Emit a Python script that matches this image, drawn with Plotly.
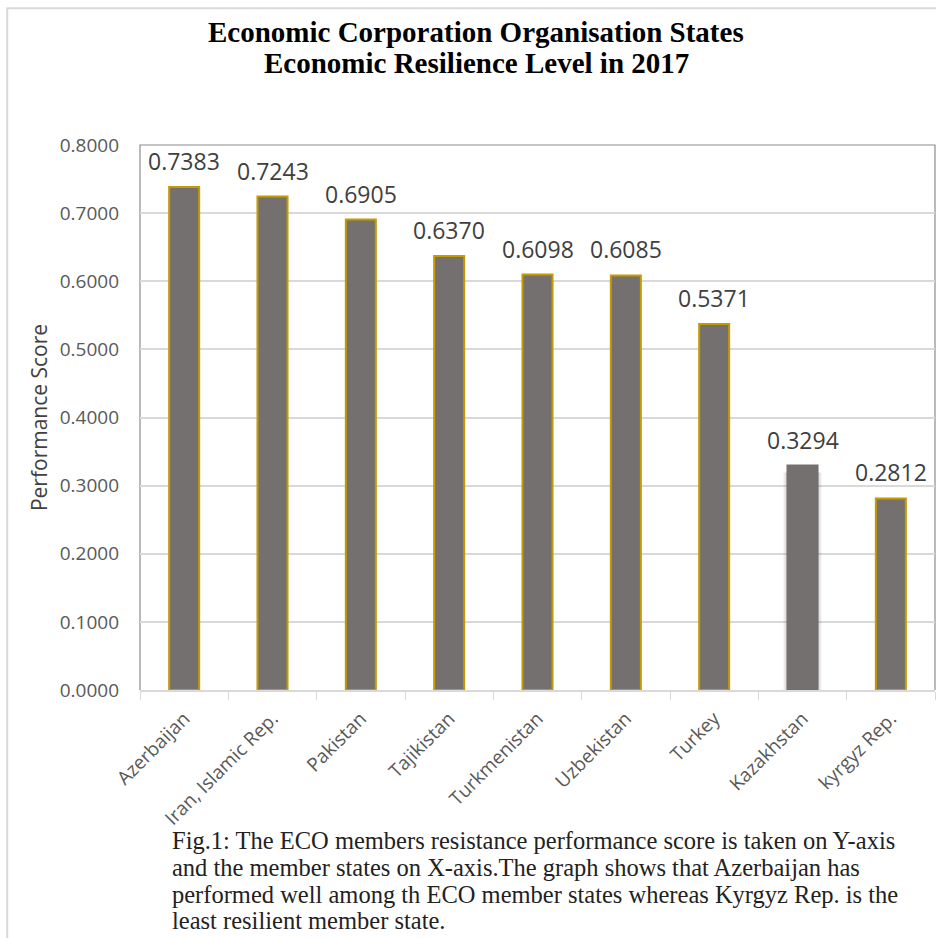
import plotly.graph_objects as go

countries = ["Azerbaijan", "Iran, Islamic Rep.", "Pakistan", "Tajikistan", "Turkmenistan",
             "Uzbekistan", "Turkey", "Kazakhstan", "kyrgyz Rep."]
scores = [0.7383, 0.7243, 0.6905, 0.6370, 0.6098, 0.6085, 0.5371, 0.3294, 0.2812]
outline_colors = ["#C59B00"] * 7 + ["#757070"] + ["#C59B00"]
shadowed = [False] * 7 + [True] + [False]
y_ticks = [0.0, 0.1, 0.2, 0.3, 0.4, 0.5, 0.6, 0.7, 0.8]
title_lines = ["Economic Corporation Organisation States", "Economic Resilience Level in 2017"]
caption_lines = [
    "Fig.1: The ECO members resistance performance score is taken on Y-axis",
    "and the member states on X-axis.The graph shows that Azerbaijan has",
    "performed well among th ECO member states whereas Kyrgyz Rep. is the",
    "least resilient member state.",
]

fig = go.Figure()
# soft shadow behind the Kazakhstan bar
shadow_vals = [v if s else None for v, s in zip(scores, shadowed)]
for w, a in [(0.44, 0.04), (0.41, 0.06), (0.38, 0.08)]:
    fig.add_trace(go.Bar(x=countries, y=[None if v is None else v - 0.004 for v in shadow_vals],
                         base=[None if v is None else -0.006 for v in shadow_vals],
                         width=w, marker=dict(color=f"rgba(0,0,0,{a})", line=dict(width=0)),
                         hoverinfo="skip"))
fig.add_trace(go.Bar(
    x=countries, y=scores, width=0.34,
    marker=dict(color="#757070", line=dict(color=outline_colors, width=2)),
    hoverinfo="skip",
))
for c, v in zip(countries, scores):
    fig.add_annotation(x=c, y=v, text=f"{v:.4f}", showarrow=False, yanchor="bottom",
                       yshift=8, font=dict(family="Open Sans", size=23, color="#404040"))

fig.add_shape(type="path", xref="paper", yref="paper", path="M 0,0 L 0,1 L 1,1 L 1,0",
              line=dict(color="#8c8c8c", width=1.2), layer="below")
fig.add_shape(type="rect", xref="paper", yref="paper",
              x0=-0.167, x1=1.2, y0=-0.5, y1=1.251,
              line=dict(color="#d9d9d9", width=2), layer="below")

for line, yy in zip(title_lines, [32, 63]):
    fig.add_annotation(xref="paper", yref="paper", x=(476 - 140) / 795, y=(690 - yy) / 545,
                       yanchor="middle", text=f"<b>{line}</b>", showarrow=False,
                       font=dict(family="Liberation Serif", size=29, color="black"))

caption_y = [840, 867, 894, 920]
for line, yy in zip(caption_lines, caption_y):
    fig.add_annotation(xref="paper", yref="paper", x=(170 - 140) / 795,
                       y=(690 - yy) / 545, xanchor="left", yanchor="middle",
                       text=line, showarrow=False, align="left",
                       font=dict(family="Liberation Serif", size=24.5, color="#222222"))

fig.update_layout(
    width=936, height=938,
    margin=dict(l=140, r=1, t=145, b=248),
    plot_bgcolor="white", paper_bgcolor="white",
    showlegend=False, barmode="overlay",
    font=dict(family="Open Sans", color="#595959"),
)
fig.update_xaxes(
    tickangle=-45, tickfont=dict(size=19, color="#595959"),
    showline=True, linecolor="#d9d9d9", linewidth=2,
    ticks="outside", tickson="boundaries", ticklen=8, tickcolor="#d9d9d9",
    ticklabelstandoff=8, showgrid=False,
)
fig.update_yaxes(
    range=[0, 0.8], tickvals=y_ticks, tickformat=".4f",
    tickfont=dict(size=19, color="#595959"),
    showgrid=True, gridcolor="#d9d9d9", gridwidth=1.5, zeroline=False,
    ticklabelstandoff=20,
    title=dict(text="Performance Score", font=dict(size=21, color="#404040"), standoff=6),
)
fig.write_html("out.html")
